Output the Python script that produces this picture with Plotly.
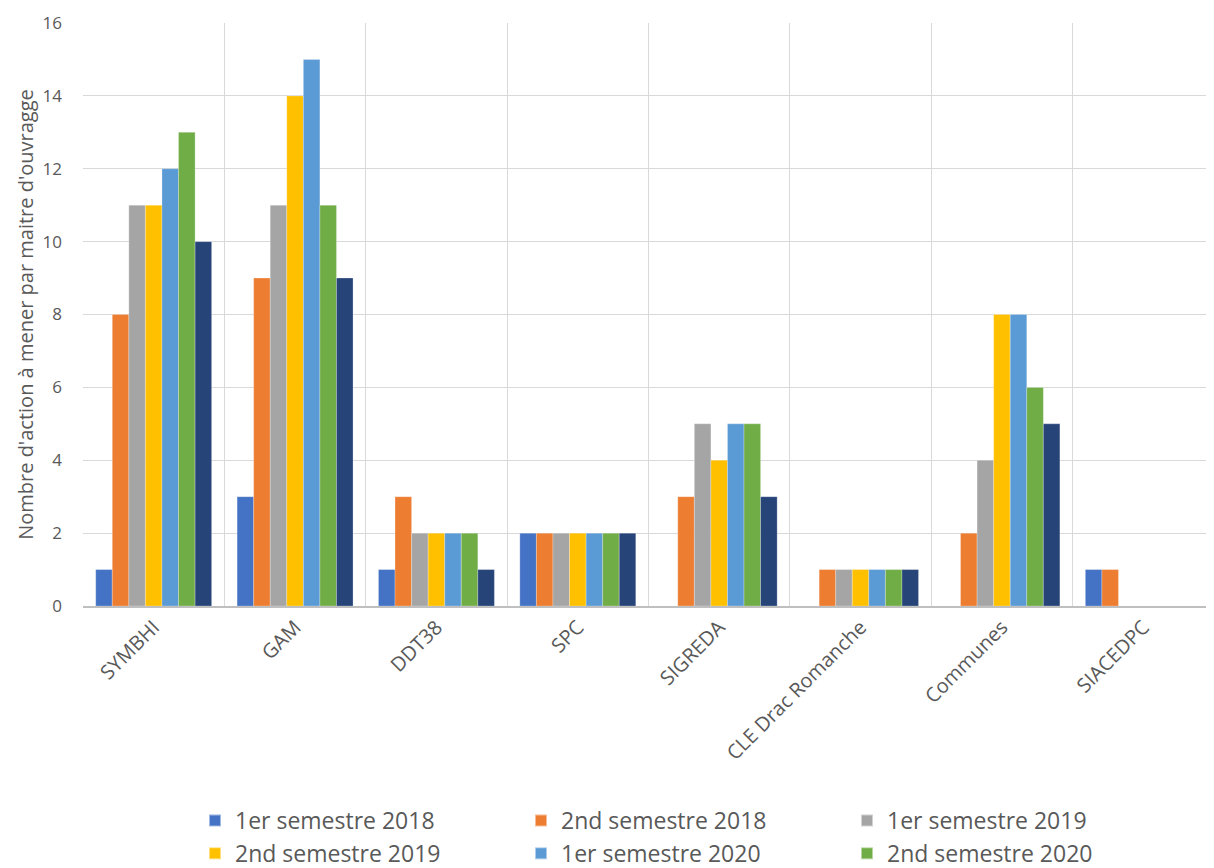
import plotly.graph_objects as go

categories = ["SYMBHI", "GAM", "DDT38", "SPC", "SIGREDA", "CLE Drac Romanche", "Communes", "SIACEDPC"]
s1_2018 = [1, 3, 1, 2, 0, 0, 0, 1]
s2_2018 = [8, 9, 3, 2, 3, 1, 2, 1]
s1_2019 = [11, 11, 2, 2, 5, 1, 4, 0]
s2_2019 = [11, 14, 2, 2, 4, 1, 8, 0]
s1_2020 = [12, 15, 2, 2, 5, 1, 8, 0]
s2_2020 = [13, 11, 2, 2, 5, 1, 6, 0]
s1_2021 = [10, 9, 1, 2, 3, 1, 5, 0]

series = [
    ("1er semestre 2018", s1_2018, "#4472C4", True),
    ("2nd semestre 2018", s2_2018, "#ED7D31", True),
    ("1er semestre 2019", s1_2019, "#A5A5A5", True),
    ("2nd semestre 2019", s2_2019, "#FFC000", True),
    ("1er semestre 2020", s1_2020, "#5B9BD5", True),
    ("2nd semestre 2020", s2_2020, "#70AD47", True),
    ("1er semestre 2021", s1_2021, "#264478", False),
]

W, H = 1206, 860

fig = go.Figure()
for name, vals, color, show in series:
    fig.add_trace(go.Bar(
        x=categories, y=vals, name=name, showlegend=show,
        marker=dict(color=color, line=dict(color="rgba(255,255,255,0.5)", width=0.5)),
    ))

fig.update_layout(
    width=W, height=H,
    margin=dict(l=75, r=0, t=15, b=262),
    paper_bgcolor="white", plot_bgcolor="white",
    barmode="group", bargap=0.18, bargroupgap=0,
    font=dict(family="Open Sans, sans-serif", color="#595959", size=17),
    legend=dict(
        orientation="h", xref="container", yref="container",
        x=187 / W, xanchor="left", y=1 - 791 / H, yanchor="top",
        entrywidth=281, entrywidthmode="pixels",
        font=dict(size=23, color="#595959"),
        tracegroupgap=0, itemsizing="constant",
    ),
)
fig.update_xaxes(
    type="category", tickson="boundaries", showgrid=True, gridcolor="#D9D9D9", gridwidth=1,
    showline=True, linecolor="#BFBFBF", linewidth=1.5, ticks="",
    tickangle=-45, tickfont=dict(size=20, color="#595959"),
)
fig.update_yaxes(
    range=[0, 16], dtick=2, showgrid=True, gridcolor="#D9D9D9", gridwidth=1,
    zeroline=False, showline=False, ticks="",
    tickfont=dict(size=17, color="#595959"), ticklabelstandoff=20,
    title=dict(text="Nombre d'action à mener par maitre d'ouvragge", font=dict(size=20, color="#595959"), standoff=3),
)

fig.write_html("out.html")
